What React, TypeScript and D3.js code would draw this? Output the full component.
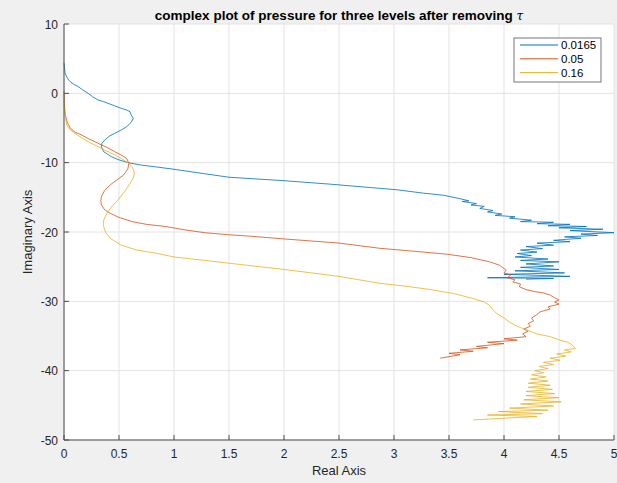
import * as d3 from 'd3';
import React from 'react';

// values: [real, imaginary]
const level0165: [number, number][] = [
  [0, 4.4], [0.005, 3.6], [0.01, 2.9], [0.03, 2.2], [0.055, 1.7], [0.09, 1.3], [0.13, 0.96],
  [0.17, 0.5], [0.22, 0.0], [0.26, -0.5], [0.31, -0.96], [0.36, -1.2], [0.40, -1.44], [0.46, -1.8],
  [0.52, -2.16], [0.57, -2.4], [0.6, -2.65], [0.61, -3.1], [0.63, -3.6], [0.61, -4.2], [0.57, -4.8],
  [0.52, -5.3], [0.46, -5.77], [0.41, -6.2], [0.37, -6.73], [0.345, -7.2], [0.34, -7.7], [0.36, -8.4],
  [0.43, -9.14], [0.5, -9.6], [0.585, -10.0], [0.7, -10.35], [0.83, -10.6], [1.0, -10.95],
  [1.28, -11.6], [1.5, -12.1], [2.0, -12.6], [2.42, -13.1], [2.87, -13.7], [3.02, -13.9],
  [3.27, -14.4], [3.45, -14.7], [3.51, -14.9], [3.6, -15.2],
  [3.68, -15.5], [3.62, -15.6], [3.75, -15.9], [3.7, -16.1], [3.82, -16.3], [3.78, -16.6],
  [3.9, -16.9], [3.85, -17.1], [3.98, -17.4], [3.92, -17.6], [4.1, -17.8], [4.05, -18.0],
  [4.25, -18.3], [4.15, -18.5], [4.45, -18.6], [4.3, -18.8], [4.6, -18.9], [4.4, -19.1],
  [4.75, -19.2], [4.5, -19.4], [4.9, -19.6], [4.6, -19.8], [5.0, -20.1], [4.7, -20.3],
  [4.85, -20.5], [4.55, -20.7], [4.7, -20.9], [4.45, -21.2], [4.6, -21.4], [4.3, -21.6],
  [4.45, -21.9], [4.2, -22.1], [4.35, -22.4], [4.15, -22.6], [4.3, -22.9], [4.12, -23.1],
  [4.25, -23.4], [4.1, -23.6], [4.4, -23.9], [4.15, -24.1], [4.5, -24.3], [4.2, -24.6],
  [4.45, -24.9], [4.15, -25.1], [4.5, -25.4], [4.1, -25.6], [4.55, -25.9], [4.0, -26.1],
  [4.6, -26.4], [3.85, -26.6], [4.45, -26.7], [4.2, -26.8],
];

const level05: [number, number][] = [
  [0, 0.3], [0.003, -1], [0.006, -2], [0.01, -2.9], [0.025, -4.0], [0.055, -5.0], [0.1, -5.6],
  [0.16, -6.0], [0.23, -6.6], [0.31, -7.2], [0.39, -7.8], [0.46, -8.4], [0.52, -8.9], [0.57, -9.4],
  [0.59, -10.1], [0.58, -10.9], [0.54, -11.8], [0.48, -12.5], [0.42, -13.2], [0.37, -14.0],
  [0.34, -14.9], [0.335, -15.5], [0.34, -16.1], [0.37, -16.8], [0.42, -17.3], [0.5, -17.9],
  [0.62, -18.5], [0.75, -18.9], [0.92, -19.2], [1.1, -19.7], [1.28, -20.1], [1.5, -20.4],
  [1.69, -20.6], [2.0, -21.0], [2.5, -21.6], [2.87, -22.35], [3.2, -22.8], [3.48, -23.2],
  [3.7, -23.7], [3.87, -24.3], [3.96, -24.8], [4.02, -25.5], [4.0, -25.9], [4.06, -26.2],
  [4.03, -26.6], [4.1, -26.9], [4.08, -27.2], [4.15, -27.5], [4.14, -27.9], [4.2, -28.3],
  [4.28, -28.6], [4.36, -28.8], [4.42, -29.1], [4.45, -29.4], [4.5, -29.8], [4.46, -30.1],
  [4.5, -30.4], [4.4, -30.8], [4.42, -31.1], [4.33, -31.5], [4.3, -31.9], [4.25, -32.4],
  [4.27, -32.8], [4.22, -33.2], [4.24, -33.6], [4.18, -34.0], [4.22, -34.3], [4.17, -34.7],
  [4.2, -35.1], [4.0, -35.4], [4.12, -35.6], [3.85, -35.9], [4.0, -36.1], [3.75, -36.5],
  [3.85, -36.7], [3.6, -37.0], [3.72, -37.2], [3.5, -37.5], [3.6, -37.7], [3.42, -38.2],
];

const level16: [number, number][] = [
  [0, -1.0], [0.003, -2.0], [0.008, -3.0], [0.025, -4.57], [0.05, -5.2], [0.1, -5.77],
  [0.16, -6.4], [0.22, -6.97], [0.3, -7.6], [0.37, -8.2], [0.45, -8.8], [0.52, -9.4],
  [0.58, -10.0], [0.62, -10.6], [0.64, -11.5], [0.63, -12.2], [0.6, -13.0], [0.55, -14.2],
  [0.49, -15.4], [0.43, -16.4], [0.39, -17.3], [0.36, -18.3], [0.36, -19.2], [0.38, -20.1],
  [0.42, -20.9], [0.52, -21.9], [0.66, -22.6], [0.85, -23.1], [1.0, -23.6], [1.5, -24.5],
  [2.0, -25.4], [2.5, -26.4], [2.87, -27.4], [3.1, -27.8], [3.33, -28.3], [3.55, -28.9],
  [3.72, -29.6], [3.82, -30.1], [3.87, -30.6], [3.9, -31.2], [3.93, -31.7], [4.0, -32.4],
  [4.05, -33.0], [4.12, -33.6], [4.2, -34.1], [4.3, -34.7], [4.42, -35.1], [4.51, -35.6],
  [4.58, -35.9], [4.62, -36.3], [4.65, -36.8],
  [4.55, -37.0], [4.61, -37.3], [4.48, -37.6], [4.56, -37.9], [4.42, -38.2], [4.51, -38.5],
  [4.36, -38.8], [4.45, -39.1], [4.32, -39.4], [4.4, -39.7], [4.28, -40.0], [4.36, -40.3],
  [4.25, -40.6], [4.38, -40.9], [4.24, -41.2], [4.4, -41.5], [4.22, -41.8], [4.42, -42.1],
  [4.22, -42.4], [4.44, -42.7], [4.2, -43.0], [4.46, -43.3], [4.2, -43.6], [4.5, -43.9],
  [4.18, -44.2], [4.52, -44.5], [4.15, -44.8], [4.45, -45.1], [4.05, -45.4], [4.4, -45.7],
  [3.95, -45.9], [4.35, -46.2], [3.85, -46.4], [4.3, -46.6], [3.72, -47.1],
];

const seriesLabels = ['0.0165', '0.05', '0.16'];
const seriesData = [level0165, level05, level16];
const colors = ['#0072BD', '#D95319', '#EDB120'];
const xTicks = [0, 0.5, 1, 1.5, 2, 2.5, 3, 3.5, 4, 4.5, 5];
const yTicks = [10, 0, -10, -20, -30, -40, -50];

const W = 617, H = 483;
const margin = { top: 24, right: 3, bottom: 43, left: 64 };
const font = '"Liberation Sans", Arial, Helvetica, sans-serif';
const axisColor = '#4d4d4d';

export default function App() {
  const x = d3.scaleLinear().domain([0, 5]).range([margin.left, W - margin.right]);
  const y = d3.scaleLinear().domain([-50, 10]).range([H - margin.bottom, margin.top]);
  const line = d3.line<[number, number]>().x(d => x(d[0])).y(d => y(d[1]));
  const x0 = x(0), x1 = x(5), yb = y(-50), yt = y(10);

  return (
    <div style={{ position: 'absolute', left: 0, top: 0 }}>
      <svg width={W} height={H} style={{ display: 'block', fontFamily: font }}>
        <rect width={W} height={H} fill="#f0f0f0" />
        <rect x={x0} y={yt} width={x1 - x0} height={yb - yt} fill="#fff" />
        {/* grid */}
        {xTicks.map(t => (
          <line key={'gx' + t} x1={x(t)} x2={x(t)} y1={yt} y2={yb} stroke="#e3e3e3" />
        ))}
        {yTicks.map(t => (
          <line key={'gy' + t} x1={x0} x2={x1} y1={y(t)} y2={y(t)} stroke="#e3e3e3" />
        ))}
        {/* curves */}
        {seriesData.map((s, i) => (
          <path key={i} d={line(s) || ''} fill="none" stroke={colors[i]} strokeWidth={0.9} strokeOpacity={0.9} strokeLinejoin="round" />
        ))}
        {/* axes */}
        <line x1={x0} x2={x0} y1={yt} y2={yb} stroke={axisColor} />
        <line x1={x0} x2={x1} y1={yb} y2={yb} stroke={axisColor} />
        {xTicks.map(t => (
          <g key={'tx' + t}>
            <line x1={x(t)} x2={x(t)} y1={yb} y2={yb - 5} stroke={axisColor} />
            <text x={x(t)} y={458} textAnchor="middle" fontSize={12} fill="#262626">{t}</text>
          </g>
        ))}
        {yTicks.map(t => (
          <g key={'ty' + t}>
            <line x1={x0} x2={x0 + 5} y1={y(t)} y2={y(t)} stroke={axisColor} />
            <text x={x0 - 6} y={y(t) + 4.5} textAnchor="end" fontSize={12} fill="#262626">{t}</text>
          </g>
        ))}
        {/* labels */}
        <text x={(x0 + x1) / 2} y={20} textAnchor="middle" fontSize={13.5} fontWeight="bold" fill="#000">
          complex plot of pressure for three levels after removing{' '}
          <tspan fontStyle="italic" fontWeight="normal" fontFamily='"DejaVu Serif", serif' fontSize={12}>τ</tspan>
        </text>
        <text x={(x0 + x1) / 2} y={475} textAnchor="middle" fontSize={13} fill="#262626">Real Axis</text>
        <text transform={`translate(32,${(yt + yb) / 2}) rotate(-90)`} textAnchor="middle" fontSize={13} fill="#262626">Imaginary Axis</text>
        {/* legend */}
        <g>
          <rect x={514} y={38} width={87} height={44} fill="#fff" stroke="#777" />
          {seriesLabels.map((l, i) => (
            <g key={l}>
              <line x1={520} x2={558} y1={45 + i * 13.8} y2={45 + i * 13.8} stroke={colors[i]} />
              <text x={561} y={49 + i * 13.8} fontSize={11.5} fill="#000">{l}</text>
            </g>
          ))}
        </g>
      </svg>
    </div>
  );
}
